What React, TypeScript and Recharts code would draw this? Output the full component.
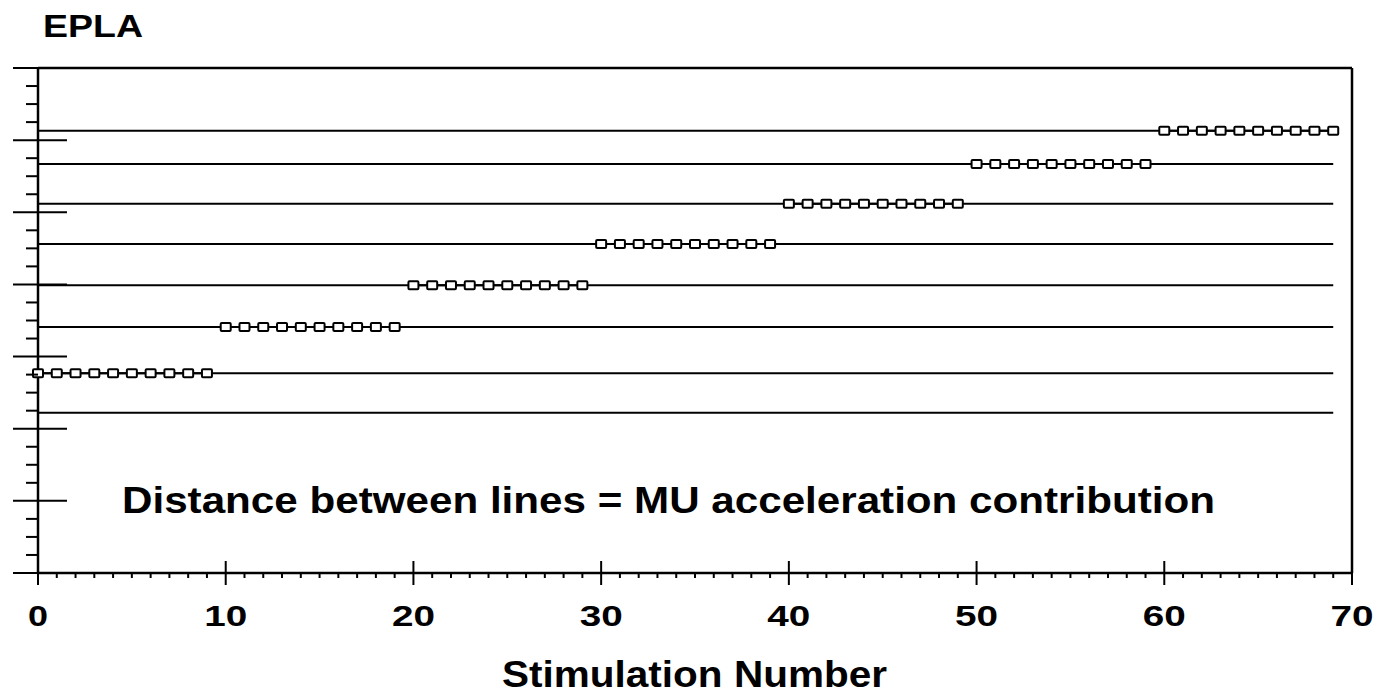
import React from 'react';
import {
    ComposedChart, Line, XAxis, YAxis, ReferenceLine,
} from 'recharts';

// Stimulation range covered by every trace
const FIRST_STIM = 0;
const LAST_STIM  = 69;

// Trace levels, bottom to top (one major y division = 1)
const LEVELS = [2.22, 2.77, 3.41, 3.99, 4.56, 5.12, 5.67, 6.13];

// Stimulations drawn with square markers on each trace
const MARKED_STIMS: number[][] = [
    [],
    [0, 1, 2, 3, 4, 5, 6, 7, 8, 9],
    [10, 11, 12, 13, 14, 15, 16, 17, 18, 19],
    [20, 21, 22, 23, 24, 25, 26, 27, 28, 29],
    [30, 31, 32, 33, 34, 35, 36, 37, 38, 39],
    [40, 41, 42, 43, 44, 45, 46, 47, 48, 49],
    [50, 51, 52, 53, 54, 55, 56, 57, 58, 59],
    [60, 61, 62, 63, 64, 65, 66, 67, 68, 69],
];

const X_TICKS = [
    0, 1, 2, 3, 4, 5, 6, 7, 8, 9, 10, 11, 12, 13, 14, 15, 16, 17, 18, 19,
    20, 21, 22, 23, 24, 25, 26, 27, 28, 29, 30, 31, 32, 33, 34, 35, 36, 37, 38, 39,
    40, 41, 42, 43, 44, 45, 46, 47, 48, 49, 50, 51, 52, 53, 54, 55, 56, 57, 58, 59,
    60, 61, 62, 63, 64, 65, 66, 67, 68, 69, 70,
];
const X_LABELS = [0, 10, 20, 30, 40, 50, 60, 70];

const Y_TICKS = [
    0, 0.25, 0.5, 0.75, 1, 1.25, 1.5, 1.75, 2, 2.25, 2.5, 2.75, 3, 3.25, 3.5, 3.75,
    4, 4.25, 4.5, 4.75, 5, 5.25, 5.5, 5.75, 6, 6.25, 6.5, 6.75, 7,
];

const FONT = '"Liberation Sans", Arial, Helvetica, sans-serif';
const INK = '#000';

const traceData = LEVELS.map(v => [
    { stim: FIRST_STIM, v },
    { stim: LAST_STIM,  v },
]);
const markerData = MARKED_STIMS.map((stims, i) => stims.map(stim => ({ stim, v: LEVELS[i] })));

// x ticks: short ticks below the axis, long crossing ticks + label every 10
const XTick: React.FC<any> = ({ x, y, payload }) => {
    const value = payload.value as number;
    if (!X_LABELS.includes(value)) {
        return <line x1={x} x2={x} y1={y} y2={y + 5} stroke={INK} strokeWidth={2} />;
    }
    const text = String(value);
    return (
        <g>
            <line x1={x} x2={x} y1={y - 12} y2={y + 12} stroke={INK} strokeWidth={2} />
            <text
                x={x} y={y + 53}
                textAnchor="middle"
                fontFamily={FONT} fontWeight="bold" fontSize={29}
                textLength={text.length > 1 ? 43 : 20}
                lengthAdjust="spacingAndGlyphs"
                fill={INK}
            >
                {text}
            </text>
        </g>
    );
};

// y ticks: quarter ticks outside, whole units cross the axis
const YTick: React.FC<any> = ({ x, y, payload }) => {
    const major = Number.isInteger(payload.value);
    return major
        ? <line x1={x - 25} x2={x + 29} y1={y} y2={y} stroke={INK} strokeWidth={2} />
        : <line x1={x - 12} x2={x} y1={y} y2={y} stroke={INK} strokeWidth={2} />;
};

const SquareDot: React.FC<any> = ({ cx, cy }) => (
    <rect x={cx - 5} y={cy - 4} width={10} height={8} rx={1}
          fill="#fff" stroke={INK} strokeWidth={2} />
);

const App: React.FC = () => (
    <div style={{ position: 'absolute', left: 0, top: 0, width: 1383, height: 699, background: '#fff' }}>
        <ComposedChart
            width={1383}
            height={699}
            margin={{ top: 68, right: 31, bottom: 125, left: 37 }}
        >
            <XAxis
                dataKey="stim"
                type="number"
                domain={[0, 70]}
                ticks={X_TICKS}
                interval={0}
                height={1}
                tickSize={0}
                tickMargin={0}
                tickLine={false}
                tick={<XTick />}
                axisLine={{ stroke: INK, strokeWidth: 2.5 }}
                allowDuplicatedCategory={false}
            />
            <YAxis
                dataKey="v"
                type="number"
                domain={[0, 7]}
                ticks={Y_TICKS}
                interval={0}
                width={1}
                tickSize={0}
                tickMargin={0}
                tickLine={false}
                tick={<YTick />}
                axisLine={{ stroke: INK, strokeWidth: 2.5 }}
            />
            <ReferenceLine y={7} stroke={INK} strokeWidth={2.5} />
            <ReferenceLine x={70} stroke={INK} strokeWidth={2.5} />

            {traceData.map((d, i) => (
                <Line
                    key={`trace-${i}`}
                    data={d}
                    dataKey="v"
                    stroke={INK}
                    strokeWidth={2}
                    dot={false}
                    activeDot={false}
                    isAnimationActive={false}
                />
            ))}
            {markerData.map((d, i) => d.length > 0 && (
                <Line
                    key={`marks-${i}`}
                    data={d}
                    dataKey="v"
                    stroke={INK}
                    strokeWidth={2}
                    dot={(p: any) => <SquareDot key={`m-${i}-${p.index}`} {...p} />}
                    activeDot={false}
                    isAnimationActive={false}
                />
            ))}
        </ComposedChart>

        <svg width={1383} height={699}
             style={{ position: 'absolute', left: 0, top: 0, pointerEvents: 'none' }}>
            <text x={43} y={37} fontFamily={FONT} fontWeight="bold" fontSize={31}
                  textLength={100} lengthAdjust="spacingAndGlyphs" fill={INK}>
                EPLA
            </text>
            <text x={122} y={513} fontFamily={FONT} fontWeight="bold" fontSize={37}
                  textLength={1093} lengthAdjust="spacingAndGlyphs" fill={INK}>
                Distance between lines = MU acceleration contribution
            </text>
            <text x={502} y={687} fontFamily={FONT} fontWeight="bold" fontSize={37}
                  textLength={385} lengthAdjust="spacingAndGlyphs" fill={INK}>
                Stimulation Number
            </text>
        </svg>
    </div>
);

export default App;
